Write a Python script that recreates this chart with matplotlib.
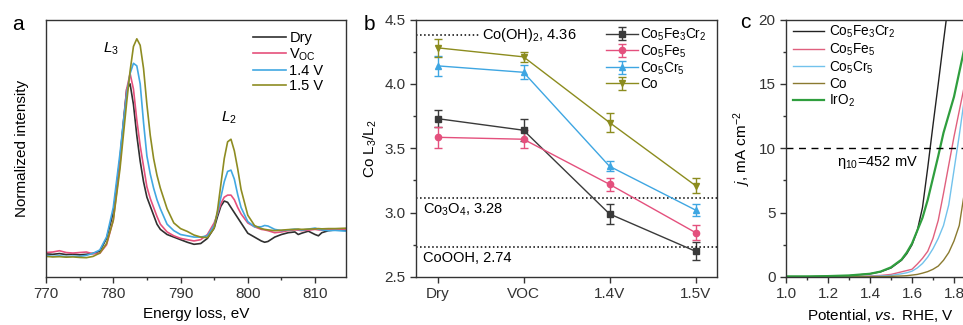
import numpy as np
import matplotlib
matplotlib.use("Agg")
import matplotlib.pyplot as plt
from matplotlib.ticker import MultipleLocator, FormatStrFormatter

plt.rcParams["font.family"] = ["Liberation Sans", "DejaVu Sans"]
plt.rcParams["mathtext.fontset"] = "custom"
plt.rcParams["mathtext.rm"] = "Liberation Sans"
plt.rcParams["mathtext.it"] = "Liberation Sans:italic"
plt.rcParams["axes.edgecolor"] = "#333333"
plt.rcParams["xtick.color"] = "#333333"
plt.rcParams["ytick.color"] = "#333333"

# ---------------- panel a : EELS spectra (normalized, arbitrary units)
energy = [770, 771, 772, 773, 774, 775, 776, 777, 778, 779, 780, 781,
          781.5, 782, 782.5, 783, 783.5, 784, 784.5, 785, 785.5, 786, 786.5, 787,
          788, 789, 790, 791, 792, 793, 794, 795,
          795.5, 796, 796.5, 797, 797.5, 798, 798.5, 799,
          800, 801, 802, 802.5, 803,
          804, 805, 806, 807, 807.5, 808, 809, 810, 810.5, 811,
          812, 813, 814, 815]
dry = [0.090, 0.088, 0.091, 0.087, 0.089, 0.086, 0.088, 0.092, 0.10, 0.15, 0.25, 0.46,
       0.60, 0.73, 0.75, 0.67, 0.55, 0.45, 0.37, 0.31, 0.275, 0.24, 0.205, 0.185,
       0.165, 0.155, 0.145, 0.135, 0.127, 0.13, 0.15, 0.19,
       0.235, 0.275, 0.295, 0.29, 0.27, 0.25, 0.23, 0.21,
       0.17, 0.155, 0.14, 0.135, 0.138,
       0.155, 0.165, 0.172, 0.175, 0.165, 0.17, 0.178, 0.165, 0.16, 0.172,
       0.18, 0.183, 0.182, 0.18]
voc = [0.095, 0.097, 0.102, 0.095, 0.093, 0.095, 0.097, 0.090, 0.092, 0.125, 0.22, 0.44,
       0.59, 0.73, 0.79, 0.73, 0.61, 0.51, 0.43, 0.35, 0.305, 0.27, 0.235, 0.205,
       0.175, 0.16, 0.15, 0.145, 0.14, 0.145, 0.165, 0.21,
       0.245, 0.285, 0.31, 0.318, 0.318, 0.30, 0.27, 0.245,
       0.21, 0.195, 0.185, 0.183, 0.18,
       0.172, 0.175, 0.18, 0.183, 0.182, 0.18, 0.182, 0.185, 0.183, 0.182,
       0.184, 0.185, 0.186, 0.187]
v14 = [0.083, 0.080, 0.082, 0.079, 0.081, 0.080, 0.084, 0.092, 0.105, 0.155, 0.27, 0.48,
       0.60, 0.71, 0.79, 0.83, 0.82, 0.75, 0.60, 0.47, 0.40, 0.345, 0.30, 0.265,
       0.205, 0.18, 0.165, 0.16, 0.155, 0.155, 0.16, 0.20,
       0.25, 0.31, 0.37, 0.41, 0.415, 0.38, 0.32, 0.27,
       0.215, 0.195, 0.195, 0.20, 0.198,
       0.185, 0.18, 0.183, 0.186, 0.185, 0.182, 0.186, 0.19, 0.186, 0.183,
       0.18, 0.181, 0.179, 0.178]
v15 = [0.080, 0.078, 0.079, 0.077, 0.078, 0.076, 0.075, 0.080, 0.093, 0.13, 0.22, 0.42,
       0.55, 0.68, 0.80, 0.895, 0.925, 0.90, 0.81, 0.67, 0.55, 0.46, 0.395, 0.345,
       0.265, 0.21, 0.188, 0.177, 0.163, 0.155, 0.153, 0.19,
       0.26, 0.36, 0.46, 0.525, 0.535, 0.49, 0.42, 0.34,
       0.24, 0.20, 0.188, 0.185, 0.183,
       0.18, 0.182, 0.184, 0.185, 0.186, 0.185, 0.186, 0.187, 0.188, 0.187,
       0.188, 0.188, 0.189, 0.19]
spec_labels = ["Dry", "V$_\\mathregular{OC}$", "1.4 V", "1.5 V"]
spec_colors = ["#303030", "#e5507c", "#42a8e2", "#8e8c22"]

# ---------------- panel b : Co L3/L2 ratio
conditions = ["Dry", "VOC", "1.4V", "1.5V"]
ratio_names = ["Co$_\\mathregular{5}$Fe$_\\mathregular{3}$Cr$_\\mathregular{2}$",
               "Co$_\\mathregular{5}$Fe$_\\mathregular{5}$",
               "Co$_\\mathregular{5}$Cr$_\\mathregular{5}$",
               "Co"]
ratio_vals = [[3.73, 3.64, 2.99, 2.70],
              [3.585, 3.57, 3.22, 2.845],
              [4.14, 4.09, 3.36, 3.02],
              [4.28, 4.21, 3.70, 3.21]]
ratio_errs = [[0.065, 0.085, 0.075, 0.07],
              [0.08, 0.07, 0.05, 0.06],
              [0.08, 0.055, 0.04, 0.05],
              [0.07, 0.04, 0.07, 0.06]]
ratio_markers = ["s", "o", "^", "v"]
ratio_colors = ["#3a3a3a", "#e4507d", "#3ea6e2", "#8c8c1e"]
ref_levels = [4.38, 3.11, 2.73]
ref_texts = ["Co(OH)$_\\mathregular{2}$, 4.36", "Co$_\\mathregular{3}$O$_\\mathregular{4}$, 3.28",
             "CoOOH, 2.74"]

# ---------------- panel c : LSV polarization curves
potential = [1.0, 1.1, 1.2, 1.3, 1.4, 1.45, 1.5, 1.55, 1.575, 1.6, 1.625, 1.65,
             1.675, 1.7, 1.725, 1.75, 1.775, 1.8, 1.825, 1.85, 1.9]
j_cfc = [0.0, 0.02, 0.05, 0.1, 0.25, 0.4, 0.7, 1.3, 1.8, 2.5, 3.6, 5.4,
         8.5, 11.8, 15.0, 18.3, 21.5, 24.8, 28.0, 31.0, 37.0]
j_cofe = [0.0, 0.0, 0.01, 0.03, 0.08, 0.12, 0.2, 0.4, 0.5, 0.6, 1.0, 1.45,
          2.0, 3.0, 4.4, 6.5, 8.7, 10.9, 12.9, 14.9, 19.0]
j_cocr = [0.0, 0.0, 0.01, 0.02, 0.05, 0.08, 0.12, 0.25, 0.33, 0.45, 0.7, 1.05,
          1.55, 2.2, 3.0, 4.0, 5.6, 8.3, 11.0, 13.9, 20.0]
j_co = [0.0, 0.0, 0.0, 0.01, 0.02, 0.03, 0.05, 0.08, 0.1, 0.15, 0.2, 0.3,
        0.42, 0.6, 0.85, 1.3, 1.9, 2.8, 4.0, 6.6, 10.0]
j_iro2 = [0.05, 0.05, 0.07, 0.12, 0.25, 0.42, 0.75, 1.35, 1.9, 2.6, 3.6, 4.6,
          6.0, 7.7, 9.4, 11.2, 12.6, 14.0, 15.9, 17.8, 21.0]
lsv_names = ["Co$_\\mathregular{5}$Fe$_\\mathregular{3}$Cr$_\\mathregular{2}$",
             "Co$_\\mathregular{5}$Fe$_\\mathregular{5}$",
             "Co$_\\mathregular{5}$Cr$_\\mathregular{5}$", "Co", "IrO$_\\mathregular{2}$"]
lsv_colors = ["#222222", "#e0607e", "#72c2ec", "#8a7a30", "#2f9e3e"]
lsv_widths = [1.0, 1.0, 1.0, 1.0, 1.6]

W, H = 963, 325
fig = plt.figure(figsize=(W / 100, H / 100), dpi=100)


def px_axes(left, top, right, bottom):
    return fig.add_axes([left / W, 1 - bottom / H, (right - left) / W, (bottom - top) / H])


# panel a
ax1 = px_axes(46, 19.5, 346, 277)
for vals, lab, col in zip([dry, voc, v14, v15], spec_labels, spec_colors):
    ax1.plot(energy, vals, color=col, lw=1.2, label=lab)
ax1.set_xlim(770, 814.6)
ax1.set_ylim(0, 1)
ax1.set_yticks([])
ax1.xaxis.set_major_locator(MultipleLocator(10))
ax1.xaxis.set_minor_locator(MultipleLocator(5))
ax1.set_xlabel("Energy loss, eV", fontsize=11)
ax1.set_ylabel("Normalized intensity", fontsize=11, labelpad=12)
ax1.text(779.6, 0.885, "$\\mathit{L}_\\mathregular{3}$", fontsize=11, ha="center", va="center")
ax1.text(797.2, 0.62, "$\\mathit{L}_\\mathregular{2}$", fontsize=11, ha="center", va="center")
ax1.legend(loc="upper left", bbox_to_anchor=(0.665, 0.985), frameon=False, fontsize=10.5,
           handlelength=2.3, handletextpad=0.2, labelspacing=0.1, borderpad=0)

# panel b
ax2 = px_axes(416, 19.5, 717, 277)
xc = np.arange(len(conditions))
for vals, errs, lab, mk, col in zip(ratio_vals, ratio_errs, ratio_names, ratio_markers, ratio_colors):
    ax2.errorbar(xc, vals, yerr=errs, color=col, marker=mk, ms=4.5, lw=1, capsize=3,
                 elinewidth=1, capthick=1, label=lab)
ax2.plot([-0.25, 0.49], [ref_levels[0]] * 2, ls=":", color="k", lw=1.1)
ax2.axhline(ref_levels[1], ls=":", color="k", lw=1.1)
ax2.axhline(ref_levels[2], ls=":", color="k", lw=1.1)
ax2.text(0.52, ref_levels[0], ref_texts[0], fontsize=10.5, va="center")
ax2.text(-0.17, 3.02, ref_texts[1], fontsize=10.5, va="center")
ax2.text(-0.17, 2.645, ref_texts[2], fontsize=10.5, va="center")
ax2.set_xlim(-0.25, 3.25)
ax2.set_ylim(2.5, 4.5)
ax2.set_xticks(xc)
ax2.set_xticklabels(conditions)
ax2.yaxis.set_major_locator(MultipleLocator(0.5))
ax2.yaxis.set_minor_locator(MultipleLocator(0.25))
ax2.set_ylabel("Co L$_\\mathregular{3}$/L$_\\mathregular{2}$", fontsize=11)
ax2.legend(loc="upper left", bbox_to_anchor=(0.61, 1.0), frameon=False, fontsize=9.8,
           handlelength=2.3, handletextpad=0.2, labelspacing=0.04, borderpad=0)

# panel c (runs past the right edge of the figure)
ax3 = px_axes(786, 19.5, 786 + 210, 277)
for jv, lab, col, w in zip([j_cfc, j_cofe, j_cocr, j_co, j_iro2], lsv_names, lsv_colors, lsv_widths):
    ax3.plot(potential, jv, color=col, lw=w, label=lab)
ax3.axhline(10, ls=(0, (5, 4)), color="k", lw=1)
ax3.text(1.243, 8.87, "\u03b7$_\\mathregular{10}$=452 mV", fontsize=10.5, va="center")
ax3.set_xlim(1.0, 2.0)
ax3.set_ylim(0, 20)
ax3.xaxis.set_major_locator(MultipleLocator(0.2))
ax3.xaxis.set_minor_locator(MultipleLocator(0.1))
ax3.yaxis.set_major_locator(MultipleLocator(5))
ax3.yaxis.set_minor_locator(MultipleLocator(2.5))
ax3.xaxis.set_major_formatter(FormatStrFormatter("%.1f"))
ax3.set_xlabel("Potential, $\\mathit{vs.}$ RHE, V", fontsize=11)
ax3.xaxis.label.set_x(0.45)
ax3.set_ylabel("$\\mathit{j}$, mA cm$^{\\mathregular{-2}}$", fontsize=11)
ax3.legend(loc="upper left", bbox_to_anchor=(0.0, 1.01), frameon=False, fontsize=9.8,
           handlelength=2.3, handletextpad=0.35, labelspacing=0.1, borderpad=0)

for ax in (ax1, ax2, ax3):
    ax.tick_params(which="major", direction="out", length=4, width=1, labelsize=11)
    ax.tick_params(which="minor", direction="out", length=2.5, width=1)
    for s in ax.spines.values():
        s.set_linewidth(1)

fig.text(18 / W, 1 - 25 / H, "a", fontsize=15, ha="center", va="center")
fig.text(369 / W, 1 - 25 / H, "b", fontsize=15, ha="center", va="center")
fig.text(745 / W, 1 - 23 / H, "c", fontsize=15, ha="center", va="center")

fig.savefig("out.png", dpi=100)
